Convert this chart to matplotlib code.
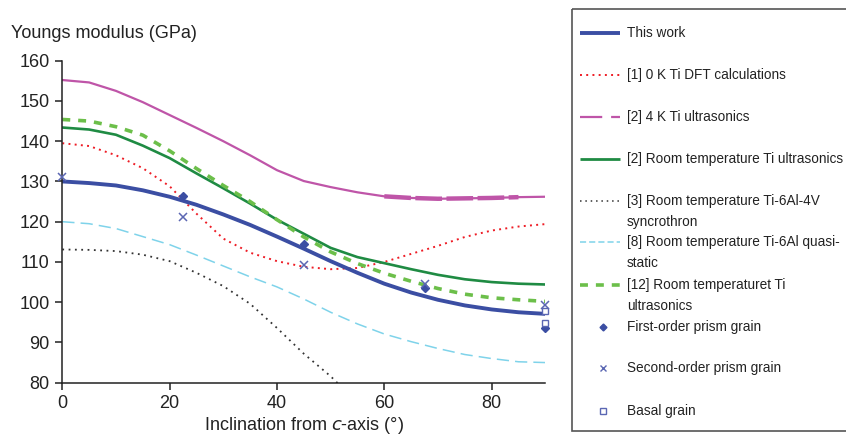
import numpy as np
import matplotlib
matplotlib.use("Agg")
import matplotlib.pyplot as plt
from matplotlib.patches import Rectangle

plt.rcParams['font.family'] = ['Liberation Sans', 'DejaVu Sans']

# Inclination angles from the c-axis (degrees)
angle = [0, 5, 10, 15, 20, 25, 30, 35, 40, 45, 50, 55, 60, 65, 70, 75, 80, 85, 90]

this_work = [130.0, 129.6, 129.0, 127.8, 126.2, 124.2, 121.8, 119.2, 116.3, 113.3,
             110.2, 107.3, 104.6, 102.4, 100.6, 99.2, 98.2, 97.5, 97.1]
dft_0k = [139.5, 138.8, 136.5, 133.3, 128.8, 122.0, 115.8, 112.3, 110.2, 108.8,
          108.2, 108.5, 110.0, 112.0, 114.0, 116.2, 117.8, 118.8, 119.4]
ultra_4k = [155.2, 154.6, 152.5, 149.7, 146.5, 143.3, 140.0, 136.5, 132.8, 130.1,
            128.6, 127.3, 126.3, 125.9, 125.7, 125.8, 125.9, 126.1, 126.2]
ultra_rt = [143.4, 142.9, 141.6, 138.9, 135.8, 132.0, 128.3, 124.5, 120.5, 117.0,
            113.5, 111.2, 109.7, 108.2, 106.8, 105.7, 105.0, 104.6, 104.4]
sync_ti64 = [113.1, 113.0, 112.7, 111.8, 110.2, 107.3, 104.0, 99.6, 93.6, 87.2,
             81.6, 75.0, np.nan, np.nan, np.nan, np.nan, np.nan, np.nan, np.nan]
quasi_ti6al = [120.0, 119.5, 118.3, 116.3, 114.3, 111.7, 109.0, 106.3, 103.8, 100.8,
               97.5, 94.6, 92.1, 90.2, 88.5, 87.0, 86.0, 85.2, 85.0]
ultra_rt12 = [145.4, 145.0, 143.6, 141.5, 137.6, 133.2, 129.0, 125.0, 120.5, 116.2,
              112.5, 109.6, 107.2, 105.2, 103.4, 102.0, 101.1, 100.6, 100.2]

# Single-grain measurements
first_angle = [22.5, 45, 67.5, 90]
first_E = [126.5, 114.5, 103.5, 93.7]
second_angle = [0, 22.5, 45, 67.5, 90]
second_E = [131.0, 121.2, 109.2, 104.4, 99.3]
basal_angle = [90, 90]
basal_E = [97.8, 94.9]

c_blue = '#3b4ea3'
c_red = '#ee1c25'
c_mag = '#bf55a8'
c_green = '#1f8b43'
c_lgreen = '#6cbf4a'
c_cyan = '#7fd3ea'
c_black = '#333333'
c_mark = '#5b67b3'
c_text = '#222222'

W, H = 846, 438
fig = plt.figure(figsize=(W / 100, H / 100), dpi=100)

x0, x1 = 62.3, 545.3
y0, y1 = 60.7, 382.7
ax = fig.add_axes([x0 / W, 1 - y1 / H, (x1 - x0) / W, (y1 - y0) / H])

a = np.array(angle, dtype=float)
ax.plot(a, quasi_ti6al, color=c_cyan, lw=1.1, dashes=(8, 4))
ax.plot(a, sync_ti64, color=c_black, lw=1.3, linestyle=(0, (1, 2.5)))
ax.plot(a, dft_0k, color=c_red, lw=1.4, linestyle=(0, (1, 2.2)))
ax.plot(a, ultra_4k, color=c_mag, lw=1.6)
mag = np.array(ultra_4k)
sel = (a >= 60) & (a <= 85)
ax.plot(a[sel], mag[sel], color=c_mag, lw=3.2, dashes=(6, 1))
ax.plot(a, ultra_rt, color=c_green, lw=1.9)
ax.plot(a, ultra_rt12, color=c_lgreen, lw=2.6, dashes=(2.2, 2.2))
ax.plot(a, this_work, color=c_blue, lw=2.8)

ax.plot(first_angle, first_E, linestyle='none', marker='D', ms=4.5,
        color=c_blue, clip_on=False, zorder=5)
ax.plot(second_angle, second_E, linestyle='none', marker='x', ms=6, mew=1.1,
        color=c_mark, clip_on=False, zorder=5)
ax.plot(basal_angle, basal_E, linestyle='none', marker='s', ms=4.5, mew=1.0,
        mfc='white', mec=c_mark, clip_on=False, zorder=5)

ax.set_xlim(0, 90)
ax.set_ylim(80, 160)
ax.set_xticks([0, 20, 40, 60, 80])
ax.set_yticks(range(80, 161, 10))
for s in ['top', 'right']:
    ax.spines[s].set_visible(False)
for s in ['left', 'bottom']:
    ax.spines[s].set_color(c_text)
    ax.spines[s].set_linewidth(1.1)
ax.tick_params(direction='out', length=5, width=1.1, labelsize=13,
               colors=c_text, pad=4)

# Axis titles
fig.text((x0 + x1) / 2 / W, 1 - 426 / H, 'Inclination from $\\mathit{c}$-axis (°)',
         fontsize=13, color=c_text, va='center', ha='center')
fig.text(11 / W, 1 - 33 / H, 'Youngs modulus (GPa)', fontsize=13,
         color=c_text, va='center', ha='left')

# Legend panel drawn in pixel coordinates
lg = fig.add_axes([0, 0, 1, 1])
lg.set_xlim(0, W)
lg.set_ylim(H, 0)
lg.axis('off')
lg.add_patch(Rectangle((571.7, 9.3), 300, 421.4, fill=False,
                       edgecolor='#555555', lw=1.2))

hx = np.array([580, 620])
tx = 627
fs = 9.8
entries = [
    (32.7, ['This work'], dict(color=c_blue, lw=2.8)),
    (75.3, ['[1] 0 K Ti DFT calculations'], dict(color=c_red, lw=1.4, linestyle=(0, (1, 2.2)))),
    (117.3, ['[2] 4 K Ti ultrasonics'], dict(color=c_mag, lw=1.6, dashes=(10, 4))),
    (159.3, ['[2] Room temperature Ti ultrasonics'], dict(color=c_green, lw=2.0)),
    (201.0, ['[3] Room temperature Ti-6Al-4V', 'syncrothron'],
     dict(color=c_black, lw=1.1, linestyle=(0, (1, 2.5)))),
    (242.3, ['[8] Room temperature Ti-6Al quasi-', 'static'],
     dict(color=c_cyan, lw=1.1, dashes=(4, 2))),
    (285.0, ['[12] Room temperaturet Ti', 'ultrasonics'],
     dict(color=c_lgreen, lw=2.6, dashes=(2.2, 2.2))),
]
for yc, lines, style in entries:
    lg.plot(hx, [yc, yc], solid_capstyle='butt', **style)
    for i, t in enumerate(lines):
        lg.text(tx, yc + i * 20.7, t, fontsize=fs, va='center', ha='left',
                color=c_text)

mx = 602.7
lg.plot([mx], [326.7], marker='D', ms=3.5, color=c_blue)
lg.text(tx, 326.7, 'First-order prism grain', fontsize=fs, va='center', color=c_text)
lg.plot([mx], [367.7], marker='x', ms=5, mew=1.0, color=c_mark)
lg.text(tx, 367.7, 'Second-order prism grain', fontsize=fs, va='center', color=c_text)
lg.plot([mx], [411.0], marker='s', ms=4, mew=1.0, mfc='white', mec=c_mark)
lg.text(tx, 411.0, 'Basal grain', fontsize=fs, va='center', color=c_text)

fig.savefig('out.png', dpi=100)
